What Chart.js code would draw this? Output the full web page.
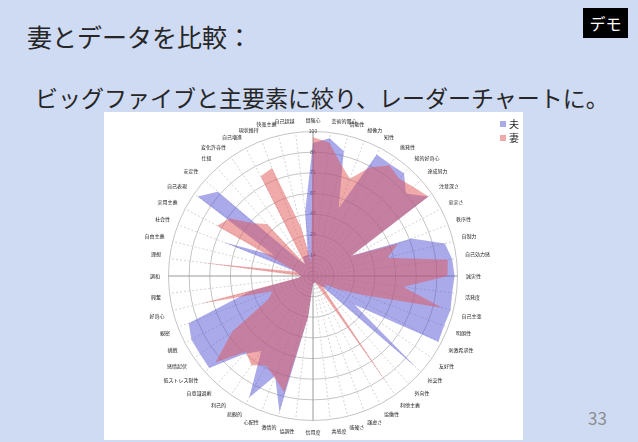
<!DOCTYPE html>
<html lang="ja">
<head>
<meta charset="utf-8">
<script src="https://cdn.jsdelivr.net/npm/chart.js@4"></script>
<style>
  body { margin: 0; width: 638px; height: 442px; background: #cfdaf3; position: relative; overflow: hidden;
         font-family: "Noto Sans CJK JP", sans-serif; }
  #title { position: absolute; left: 27px; top: 18px; font-size: 25px; color: #262626; }
  #sub { position: absolute; left: 35px; top: 80px; font-size: 23px; color: #262626; }
  #demo { position: absolute; left: 583px; top: 8px; width: 45px; height: 30px; background: #000; color: #fff;
          font-size: 16px; text-align: center; line-height: 30px; }
  #page { position: absolute; left: 588px; top: 405px; font-size: 17px; color: #8c8c8c; }
  #box { position: absolute; left: 104px; top: 112px; width: 419px; height: 328px; background: #fff; }
  #legend { position: absolute; left: 396px; top: 5px; font-size: 10px; line-height: 14px; color: #222; }
  #legend span.sw { display: inline-block; width: 6px; height: 6px; margin-right: 3px; vertical-align: 1px; }
</style>
</head>
<body>
<div id="title">妻とデータを比較：</div>
<div id="sub">ビッグファイブと主要素に絞り、レーダーチャートに。</div>
<div id="demo">デモ</div>
<div id="page">33</div>
<div id="box">
  <canvas id="radar" width="419" height="328"></canvas>
  <div id="legend">
    <div><span class="sw" style="background:#aaaaeb"></span>夫</div>
    <div><span class="sw" style="background:#f0aaaa"></span>妻</div>
  </div>
</div>
<script>
// 52 traits (big five + facets, needs, values)
const labels = [
  '冒険心', '芸術的関心', '情動性', '想像力', '知性', '挑発性', '知的好奇心',
  '達成努力', '注意深さ', '忠実さ', '秩序性', '自制力', '自己効力感', '誠実性',
  '活発度', '自己主張', '明朗性', '刺激希求性', '友好性', '社交性', '外向性',
  '利他主義', '協働性', '謙虚さ', '強硬さ', '共感度', '信用度', '協調性',
  '激情的', '心配性', '悲観的', '利己的', '自意識過剰', '低ストレス耐性', '感情起伏',
  '挑戦', '親密', '好奇心', '興奮', '調和', '理想', '自由主義', '社会性', '実用主義', '自己表現', '安定性', '仕組',
  '変化許容性', '自己増進', '現状維持', '快楽主義', '自己超越'
];

const husband = [
  0.92, 0.96, 0.89, 0.50, 0.95, 0.94, 0.95, 0.86, 0.97, 0.30,
  0.73, 0.94, 0.97, 0.98, 0.97, 0.98, 0.97, 0.98, 0.35, 0.95,
  0.10, 0.08, 0.06, 0.05, 0.05, 0.05, 0.05, 0.29, 0.97, 0.74,
  0.95, 0.63, 0.72, 0.96, 0.95, 0.95, 0.92, 0.45, 0.10, 0.08,
  0.10, 0.12, 0.66, 0.30, 0.97, 0.88, 0.15, 0.10, 0.15, 0.15,
  0.15, 0.45
];

const wife = [
  0.96, 0.93, 0.80, 0.72, 0.85, 0.93, 0.90, 0.93, 0.97, 0.30,
  0.63, 0.53, 0.94, 0.93, 0.63, 0.92, 0.37, 0.20, 0.10, 0.12,
  0.10, 0.92, 0.10, 0.05, 0.05, 0.05, 0.05, 0.29, 0.83, 0.75,
  0.70, 0.75, 0.70, 0.90, 0.68, 0.35, 0.30, 0.80, 0.10, 0.08,
  0.78, 0.12, 0.20, 0.75, 0.70, 0.55, 0.48, 0.10, 0.78, 0.80,
  0.35, 0.10
];

const tickLabels = ['0', '14', '29', '43', '57', '71', '86', '100'];

const axisIdx = [0, 13, 26, 39];

// wife first so it is painted over the husband
new Chart(document.getElementById('radar'), {
  type: 'radar',
  data: {
    labels: labels,
    datasets: [
      {
        label: '妻',
        data: wife,
        backgroundColor: 'rgba(225, 85, 85, 0.5)',
        borderWidth: 0,
        pointRadius: 0
      },
      {
        label: '夫',
        data: husband,
        backgroundColor: 'rgba(85, 85, 215, 0.5)',
        borderWidth: 0,
        pointRadius: 0
      }
    ]
  },
  options: {
    responsive: false,
    animation: false,
    layout: { padding: { top: 5, bottom: 5 } },
    plugins: { legend: { display: false }, tooltip: { enabled: false } },
    elements: { line: { tension: 0 } },
    scales: {
      r: {
        min: 0,
        max: 1,
        ticks: {
          stepSize: 1 / 7,
          showLabelBackdrop: false,
          color: '#444',
          font: { size: 5 },
          callback: (v, i) => tickLabels[i]
        },
        grid: { circular: true, color: '#c4c4c4', borderDash: [2, 2] },
        angleLines: {
          color: ctx => axisIdx.includes(ctx.index) ? '#9a9a9a' : '#d4d4d4',
          borderDash: ctx => axisIdx.includes(ctx.index) ? [] : [2, 2]
        },
        pointLabels: { font: { size: 5, family: 'Noto Sans CJK JP' }, color: '#222', padding: 4 }
      }
    }
  }
});
</script>
</body>
</html>
